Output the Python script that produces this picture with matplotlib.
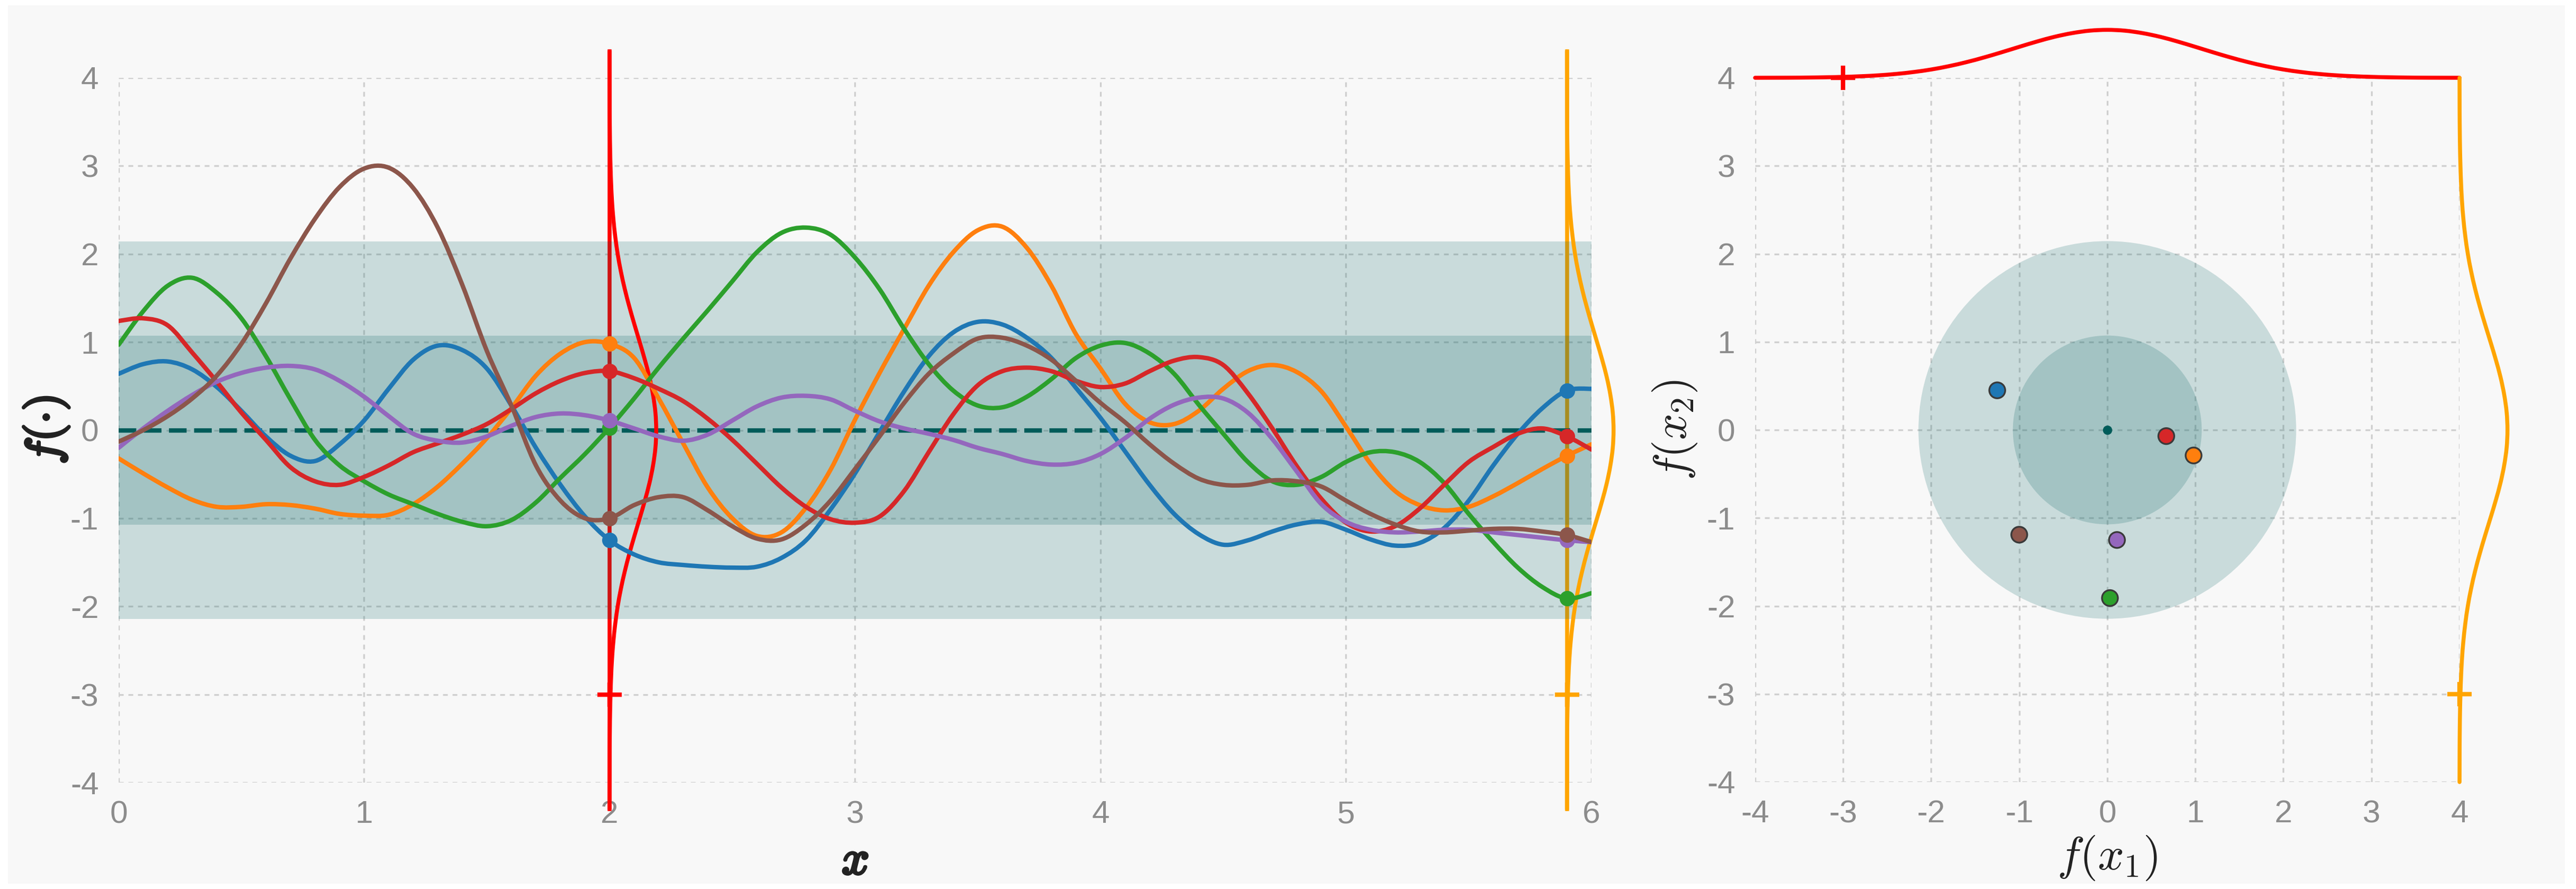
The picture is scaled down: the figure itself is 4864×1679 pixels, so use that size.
import numpy as np
import matplotlib.pyplot as plt
import matplotlib.patheffects as pe
from matplotlib.patches import Rectangle, Circle, PathPatch
from matplotlib.path import Path

plt.rcParams['font.family'] = ['Liberation Sans', 'DejaVu Sans']
plt.rcParams['mathtext.fontset'] = 'cm'
plt.rcParams['axes.unicode_minus'] = False

W, H, DPI = 4865, 1679, 300

# GP prior: mean and std of the shaded bands
PRIOR_MEAN = 0.0
PRIOR_SD = 1.0725

# input locations of the samples (step 0.1) and the two marked inputs
x_grid = np.linspace(0, 6, 61)
X1, X2 = 2.0, 5.9
I1, I2 = 20, 59

# six prior samples at x = 0.0, 0.1, ..., 6.0
s_blue = [0.64, 0.75, 0.78, 0.69, 0.49, 0.22, -0.07, -0.29, -0.35, -0.16,
          0.11, 0.47, 0.80, 0.96, 0.91, 0.70, 0.28, -0.20, -0.62, -0.98,
          -1.25, -1.41, -1.50, -1.53, -1.55, -1.56, -1.55, -1.45, -1.25, -0.90,
          -0.49, -0.02, 0.44, 0.84, 1.11, 1.23, 1.20, 1.05, 0.82, 0.48,
          0.14, -0.24, -0.62, -0.95, -1.18, -1.30, -1.25, -1.15, -1.07, -1.04,
          -1.13, -1.24, -1.31, -1.28, -1.11, -0.80, -0.40, -0.04, 0.25, 0.45,
          0.47]
s_orange = [-0.32, -0.49, -0.65, -0.79, -0.87, -0.87, -0.84, -0.85, -0.89, -0.95,
            -0.97, -0.96, -0.84, -0.64, -0.38, -0.09, 0.25, 0.62, 0.87, 1.00,
            0.98, 0.82, 0.36, -0.15, -0.65, -1.00, -1.20, -1.16, -0.88, -0.45,
            0.12, 0.65, 1.15, 1.64, 2.02, 2.27, 2.31, 2.07, 1.64, 1.09,
            0.70, 0.30, 0.09, 0.07, 0.22, 0.47, 0.67, 0.74, 0.66, 0.44,
            0.04, -0.38, -0.69, -0.85, -0.91, -0.87, -0.75, -0.60, -0.44, -0.29,
            -0.16]
s_green = [0.97, 1.35, 1.64, 1.73, 1.56, 1.27, 0.84, 0.35, -0.11, -0.40,
           -0.58, -0.73, -0.84, -0.95, -1.04, -1.09, -1.02, -0.82, -0.54, -0.27,
           0.03, 0.36, 0.71, 1.04, 1.36, 1.69, 2.02, 2.24, 2.30, 2.22,
           1.96, 1.60, 1.15, 0.75, 0.45, 0.28, 0.26, 0.38, 0.58, 0.82,
           0.96, 0.99, 0.87, 0.64, 0.29, -0.04, -0.36, -0.58, -0.62, -0.53,
           -0.36, -0.25, -0.25, -0.36, -0.60, -0.95, -1.27, -1.56, -1.78, -1.91,
           -1.85]
s_red = [1.24, 1.27, 1.19, 0.88, 0.55, 0.20, -0.11, -0.42, -0.58, -0.62,
         -0.53, -0.40, -0.25, -0.15, -0.05, 0.07, 0.24, 0.42, 0.56, 0.65,
         0.67, 0.59, 0.47, 0.33, 0.13, -0.11, -0.38, -0.65, -0.87, -1.01,
         -1.05, -0.98, -0.69, -0.25, 0.18, 0.51, 0.67, 0.71, 0.67, 0.56,
         0.49, 0.53, 0.67, 0.79, 0.83, 0.74, 0.42, 0.02, -0.41, -0.78,
         -1.05, -1.15, -1.09, -0.89, -0.62, -0.36, -0.19, -0.04, 0.02, -0.07,
         -0.22]
s_purple = [-0.20, 0.02, 0.22, 0.40, 0.55, 0.65, 0.71, 0.73, 0.69, 0.56,
            0.38, 0.16, -0.04, -0.12, -0.14, -0.07, 0.05, 0.15, 0.19, 0.17,
            0.11, 0.02, -0.07, -0.12, -0.05, 0.11, 0.27, 0.37, 0.39, 0.35,
            0.22, 0.10, 0.02, -0.04, -0.11, -0.20, -0.27, -0.35, -0.39, -0.37,
            -0.27, -0.09, 0.13, 0.29, 0.37, 0.36, 0.20, -0.10, -0.47, -0.84,
            -1.04, -1.13, -1.16, -1.15, -1.13, -1.13, -1.16, -1.19, -1.22, -1.25,
            -1.27]
s_brown = [-0.13, 0.00, 0.16, 0.36, 0.62, 0.98, 1.44, 1.95, 2.40, 2.76,
           2.97, 2.98, 2.75, 2.30, 1.65, 0.90, 0.28, -0.40, -0.80, -1.00,
           -1.00, -0.85, -0.76, -0.76, -0.91, -1.09, -1.23, -1.24, -1.07, -0.80,
           -0.44, -0.07, 0.31, 0.64, 0.87, 1.04, 1.05, 0.96, 0.80, 0.56,
           0.31, 0.09, -0.16, -0.38, -0.55, -0.62, -0.62, -0.57, -0.58, -0.64,
           -0.80, -0.95, -1.07, -1.15, -1.16, -1.14, -1.12, -1.12, -1.15, -1.19,
           -1.27]

samples = [s_blue, s_orange, s_green, s_red, s_purple, s_brown]
sample_colors = ['#1f77b4', '#ff7f0e', '#2ca02c', '#d62728', '#9467bd', '#8c564b']

# marginal density outline: relative height vs offset from the mean
dens_offset = [0.0, 0.2, 0.4, 0.6, 0.8, 1.0, 1.2, 1.4, 1.6, 1.8, 2.0, 2.2,
               2.4, 2.6, 2.8, 3.0, 3.2, 3.4, 3.6, 3.8, 4.0, 4.2, 4.3]
dens_height = [1.000, 0.983, 0.932, 0.855, 0.756, 0.646, 0.533, 0.425, 0.327,
               0.243, 0.174, 0.121, 0.081, 0.052, 0.033, 0.020, 0.011, 0.006,
               0.003, 0.002, 0.001, 0.000, 0.000]

off = np.asarray(dens_offset)
hgt = np.asarray(dens_height)
t_full = np.r_[-off[:0:-1], off]
h_full = np.r_[hgt[:0:-1], hgt]
keep = np.abs(t_full) <= 4.0
t_sq, h_sq = t_full[keep], h_full[keep]

BAND = '#006060'
MEAN_C = '#005c5a'
RED = '#ff0000'
ORANGE = '#ffa500'
TICK_C = '#8c8c8c'
LABEL_C = '#222222'
bold = [pe.withStroke(linewidth=1.2, foreground=LABEL_C)]


def smooth_line(a, xs, ys, color, lw, zorder, clip=True):
    # draw a smooth path through the given points (cubic bezier segments)
    p = np.column_stack([np.asarray(xs, float), np.asarray(ys, float)])
    ext = np.vstack([p[0], p, p[-1]])
    verts = [p[0]]
    codes = [Path.MOVETO]
    for i in range(len(p) - 1):
        c1 = ext[i + 1] + (ext[i + 2] - ext[i]) / 6.0
        c2 = ext[i + 2] - (ext[i + 3] - ext[i + 1]) / 6.0
        verts += [c1, c2, p[i + 1]]
        codes += [Path.CURVE4] * 3
    patch = PathPatch(Path(verts, codes), facecolor='none', edgecolor=color,
                      lw=lw, zorder=zorder, capstyle='round', joinstyle='round')
    a.add_patch(patch)
    patch.set_clip_on(clip)
    return patch


fig = plt.figure(figsize=(W / DPI, H / DPI), dpi=DPI, facecolor='white')
fig.patches.append(Rectangle((15 / W, 10 / H), (4843 - 15) / W, (1669 - 10) / H,
                             transform=fig.transFigure, facecolor='#f8f8f8',
                             edgecolor='none', zorder=-10))

ax = fig.add_axes([224 / W, (H - 1478) / H, 2781 / W, 1331 / H])
ax2 = fig.add_axes([3314 / W, (H - 1477) / H, 1330 / W, 1330 / H])

for a in (ax, ax2):
    a.set_facecolor('none')
    for sp in a.spines.values():
        sp.set_visible(False)
    a.grid(True, color='#cfcfcf', lw=0.8, ls=(0, (2.7, 2.7)))
    a.set_axisbelow(True)
    a.tick_params(length=0, labelsize=14.5, labelcolor=TICK_C)
    a.tick_params(axis='x', pad=8)
    a.tick_params(axis='y', pad=9)

# ---- left: samples from the prior over x ----
ax.set_xlim(0, 6)
ax.set_ylim(-4, 4)
ax.set_xticks(range(0, 7))
ax.set_yticks(range(-4, 5))

for xm, col in [(X1, RED), (X2, ORANGE)]:
    ax.plot(np.full_like(t_full, xm), PRIOR_MEAN + t_full, color=col, lw=1.8,
            zorder=1, clip_on=False)

ax.fill_between([0, 6], PRIOR_MEAN - 2 * PRIOR_SD, PRIOR_MEAN + 2 * PRIOR_SD,
                color=BAND, alpha=0.19, lw=0, zorder=2)
ax.fill_between([0, 6], PRIOR_MEAN - PRIOR_SD, PRIOR_MEAN + PRIOR_SD,
                color=BAND, alpha=0.19, lw=0, zorder=2)
ax.plot([0, 6], [PRIOR_MEAN, PRIOR_MEAN], color=MEAN_C, lw=2.0,
        dashes=(4, 1.7), zorder=3)

for xm, col in [(X1, RED), (X2, ORANGE)]:
    smooth_line(ax, xm + 0.19 * h_full, PRIOR_MEAN + t_full, col, 1.8, 4,
                clip=False)
    ax.plot(xm, -3, marker='+', ms=11, mew=2, color=col, zorder=4)

for s, col in zip(samples, sample_colors):
    smooth_line(ax, x_grid, s, col, 2.0, 5)
    ax.plot([X1, X2], [s[I1], s[I2]], 'o', ms=6, color=col, zorder=6,
            clip_on=False)

ax.set_xlabel(r'$x$', fontsize=22, color=LABEL_C, path_effects=bold)
ax.xaxis.set_label_coords(0.5, -0.112)
ax.xaxis.label.set_va('center')
ax.set_ylabel(r'$f(\cdot)$', fontsize=21, color=LABEL_C, path_effects=bold)
ax.yaxis.set_label_coords(-0.049, 0.5)
ax.yaxis.label.set_va('center')

# ---- right: joint of f(x1), f(x2) ----
ax2.set_xlim(-4, 4)
ax2.set_ylim(-4, 4)
ax2.set_xticks(range(-4, 5))
ax2.set_yticks(range(-4, 5))

ax2.add_patch(Circle((PRIOR_MEAN, PRIOR_MEAN), 2 * PRIOR_SD, facecolor=BAND,
                     alpha=0.19, lw=0, zorder=2))
ax2.add_patch(Circle((PRIOR_MEAN, PRIOR_MEAN), PRIOR_SD, facecolor=BAND,
                     alpha=0.19, lw=0, zorder=2))
ax2.plot(PRIOR_MEAN, PRIOR_MEAN, 'o', ms=3.2, color=MEAN_C, zorder=3)

f1 = [s[I1] for s in samples]
f2 = [s[I2] for s in samples]
ax2.scatter(f1, f2, s=7.2 ** 2, c=sample_colors, edgecolors='#3a3a3a',
            linewidths=0.8, zorder=5)

smooth_line(ax2, PRIOR_MEAN + t_sq, 4 + 0.545 * h_sq, RED, 1.8, 4, clip=False)
smooth_line(ax2, 4 + 0.545 * h_sq, PRIOR_MEAN + t_sq, ORANGE, 1.8, 4, clip=False)
ax2.plot(-3, 4, marker='+', ms=11, mew=2, color=RED, zorder=4, clip_on=False)
ax2.plot(4, -3, marker='+', ms=11, mew=2, color=ORANGE, zorder=4, clip_on=False)

ax2.set_xlabel(r'$f(x_1)$', fontsize=21, color=LABEL_C)
ax2.xaxis.set_label_coords(0.5, -0.108)
ax2.xaxis.label.set_va('center')
ax2.set_ylabel(r'$f(x_2)$', fontsize=21, color=LABEL_C)
ax2.yaxis.set_label_coords(-0.114, 0.5)
ax2.yaxis.label.set_va('center')

fig.savefig('out.png', dpi=DPI, facecolor=fig.get_facecolor())
